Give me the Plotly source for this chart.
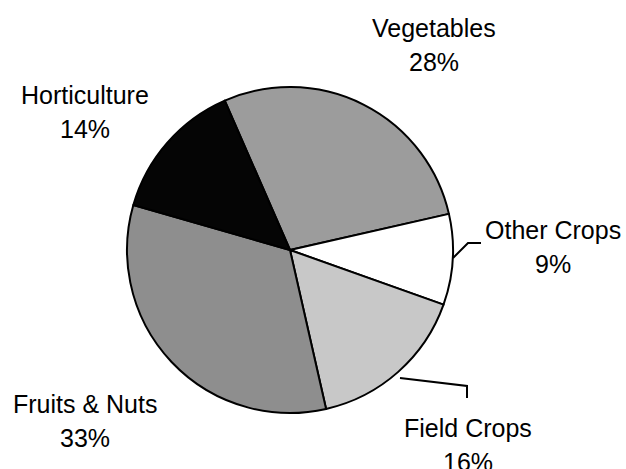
import plotly.graph_objects as go

# Slices in drawing order (clockwise, starting at the Horticulture/Vegetables edge)
categories = ["Vegetables", "Other Crops", "Field Crops", "Fruits & Nuts", "Horticulture"]
shares = [28, 9, 16, 33, 14]
slice_colors = ["#9c9c9c", "#ffffff", "#c8c8c8", "#8e8e8e", "#050505"]

W, H = 626, 469
def px(x, y):
    return x / W, 1 - y / H

# label block placement in pixels: (centre x, first line centre y)
label_pos = {
    "Vegetables": (434, 28),
    "Other Crops": (553, 230),
    "Field Crops": (468, 428),
    "Fruits & Nuts": (85, 404),
    "Horticulture": (85, 95),
}
line_gap = 34

fig = go.Figure()
fig.add_trace(go.Pie(
    labels=categories, values=shares,
    sort=False, direction="clockwise", rotation=336.4,
    marker=dict(colors=slice_colors, line=dict(color="black", width=2)),
    textinfo="none", hoverinfo="label+percent",
    domain=dict(x=[0.2029, 0.7236], y=[0.1194, 0.8145]),
    showlegend=False,
))

font = dict(family="Liberation Sans, Arial", size=25, color="black")
for cat, val in zip(categories, shares):
    cx, cy = label_pos[cat]
    for i, txt in enumerate([cat, f"{val}%"]):
        x, y = px(cx, cy + i * line_gap)
        fig.add_annotation(
            x=x, y=y, xref="paper", yref="paper",
            xanchor="center", yanchor="middle",
            text=txt, showarrow=False, font=font,
        )

# leader lines for the two right-hand labels
leaders = [
    [(453, 258), (468, 243), (481, 243)],
    [(400, 378), (467, 386), (467, 398)],
]
for pts in leaders:
    path = ""
    for i, (x, y) in enumerate(pts):
        a, b = px(x, y)
        path += ("M" if i == 0 else "L") + f"{a},{b} "
    fig.add_shape(type="path", path=path, xref="paper", yref="paper",
                  line=dict(color="black", width=2))

fig.update_layout(
    width=W, height=H,
    margin=dict(l=0, r=0, t=0, b=0),
    paper_bgcolor="white", plot_bgcolor="white",
)

fig.write_html("out.html", config={"displayModeBar": False},
               post_script="document.body.style.margin='0';")
